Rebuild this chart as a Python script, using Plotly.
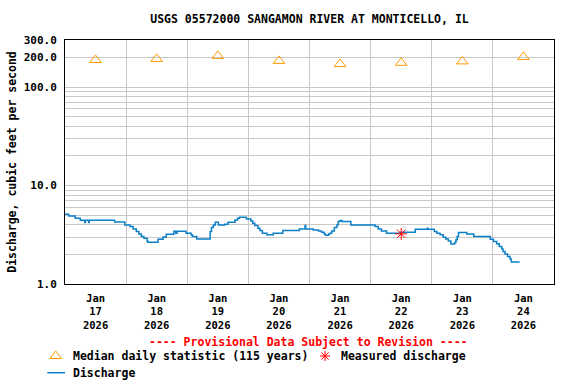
import plotly.graph_objects as go
import pandas as pd
import numpy as np

TITLE = "USGS 05572000 SANGAMON RIVER AT MONTICELLO, IL"

# Discharge time series (cfs)
q_times = [
    "2026-01-17 00:00", "2026-01-17 01:30", "2026-01-17 04:00", "2026-01-17 06:00",
    "2026-01-17 07:45", "2026-01-17 08:00", "2026-01-17 09:15", "2026-01-17 09:30",
    "2026-01-17 19:30", "2026-01-17 23:30", "2026-01-18 01:30", "2026-01-18 02:45",
    "2026-01-18 04:00", "2026-01-18 05:00", "2026-01-18 06:00", "2026-01-18 07:00",
    "2026-01-18 08:15", "2026-01-18 08:30", "2026-01-18 12:30", "2026-01-18 14:30",
    "2026-01-18 15:45", "2026-01-18 18:45", "2026-01-18 19:30", "2026-01-18 20:00",
    "2026-01-18 23:30", "2026-01-19 01:30", "2026-01-19 02:00", "2026-01-19 03:45",
    "2026-01-19 09:00", "2026-01-19 09:30", "2026-01-19 10:15", "2026-01-19 11:00",
    "2026-01-19 12:15", "2026-01-19 14:45", "2026-01-19 16:00", "2026-01-19 18:45",
    "2026-01-19 19:45", "2026-01-19 20:30", "2026-01-19 23:15", "2026-01-20 01:00",
    "2026-01-20 01:45", "2026-01-20 02:30", "2026-01-20 03:45", "2026-01-20 04:30",
    "2026-01-20 05:30", "2026-01-20 07:15", "2026-01-20 09:45", "2026-01-20 13:30",
    "2026-01-20 20:00", "2026-01-20 22:15", "2026-01-20 22:30", "2026-01-21 01:30",
    "2026-01-21 03:30", "2026-01-21 04:45", "2026-01-21 05:45", "2026-01-21 06:15",
    "2026-01-21 07:30", "2026-01-21 08:00", "2026-01-21 08:45", "2026-01-21 09:45",
    "2026-01-21 10:45", "2026-01-21 11:15", "2026-01-21 12:00", "2026-01-21 12:45",
    "2026-01-21 16:15", "2026-01-22 01:45", "2026-01-22 03:00", "2026-01-22 04:15",
    "2026-01-22 06:15", "2026-01-22 11:45", "2026-01-22 17:30", "2026-01-22 22:15",
    "2026-01-22 22:30", "2026-01-23 01:00", "2026-01-23 02:00", "2026-01-23 03:15",
    "2026-01-23 04:30", "2026-01-23 05:30", "2026-01-23 06:30", "2026-01-23 07:30",
    "2026-01-23 09:00", "2026-01-23 09:30", "2026-01-23 10:00", "2026-01-23 10:30",
    "2026-01-23 13:45", "2026-01-23 16:30", "2026-01-23 23:00", "2026-01-24 00:15",
    "2026-01-24 01:30", "2026-01-24 02:30", "2026-01-24 03:30", "2026-01-24 04:00",
    "2026-01-24 04:45", "2026-01-24 05:45", "2026-01-24 06:45", "2026-01-24 07:15",
    "2026-01-24 10:30",
]
q_values = [
    5.11, 4.91, 4.66, 4.44,
    4.20, 4.44, 4.20, 4.44,
    4.27, 3.98, 3.83, 3.62,
    3.41, 3.22, 3.04, 2.92,
    2.74, 2.66, 2.85, 3.00,
    3.20, 3.44, 3.28, 3.44,
    3.28, 3.16, 3.03, 2.87,
    3.41, 3.74, 3.98, 4.24,
    3.98, 4.05, 4.24, 4.47,
    4.66, 4.76, 4.58, 4.37,
    4.14, 3.92, 3.69, 3.49,
    3.28, 3.16, 3.28, 3.49,
    3.62, 3.92, 3.62, 3.54,
    3.46, 3.36, 3.21, 3.12,
    3.21, 3.28, 3.46, 3.74,
    3.98, 4.30, 4.40, 4.30,
    3.98, 3.83, 3.62, 3.46,
    3.28, 3.36, 3.60, 3.69,
    3.60, 3.41, 3.28, 3.16,
    2.99, 2.87, 2.74, 2.54,
    2.64, 2.81, 3.03, 3.33,
    3.21, 3.03, 2.85, 2.70,
    2.56, 2.40, 2.26, 2.14,
    2.02, 1.90, 1.79, 1.67,
    1.67,
]

# Median daily statistic (115 years)
med_days = ["2026-01-17", "2026-01-18", "2026-01-19", "2026-01-20",
            "2026-01-21", "2026-01-22", "2026-01-23", "2026-01-24"]
med_values = [188, 193, 207, 184, 171, 176, 182, 202]

# Measured discharge
meas_times = ["2026-01-22 12:00"]
meas_values = [3.23]

y_tickvals = [1, 10, 100, 200, 300]
y_ticktext = ["1.0", "10.0", "100.0", "200.0", "300.0"]
y_minor = [2, 3, 4, 5, 6, 7, 8, 9, 20, 30, 40, 50, 60, 70, 80, 90]

FONT = "DejaVu Sans Mono"
BLUE = "#0b7fc7"
ORANGE = "#ff9900"
RED = "#ff0000"

med_x = pd.to_datetime(med_days) + pd.Timedelta(hours=12)

fig = go.Figure()
fig.add_trace(go.Scatter(x=pd.to_datetime(q_times), y=q_values, mode="lines",
                         line=dict(color=BLUE, width=1.5, shape="hv"),
                         showlegend=False))
fig.add_trace(go.Scatter(x=med_x, y=med_values, mode="markers",
                         marker=dict(symbol="triangle-up-open", size=10, color=ORANGE,
                                     line=dict(color=ORANGE, width=1)),
                         showlegend=False))
fig.add_trace(go.Scatter(x=pd.to_datetime(meas_times), y=meas_values, mode="markers",
                         marker=dict(symbol="asterisk-open", size=10, color=RED,
                                     line=dict(color=RED, width=1)),
                         showlegend=False))

# legend key symbols drawn as pixel-sized shapes anchored in paper coords
fig.add_shape(type="path", xref="paper", yref="paper", xsizemode="pixel", ysizemode="pixel",
              xanchor=-0.019, yanchor=-0.295,
              path="M-5.8,-2.5 L5.8,-2.5 L0,5 Z",
              line=dict(color=ORANGE, width=1), fillcolor="rgba(0,0,0,0)")
fig.add_shape(type="path", xref="paper", yref="paper", xsizemode="pixel", ysizemode="pixel",
              xanchor=0.5317, yanchor=-0.295,
              path="M0,-5 L0,5 M-5,0 L5,0 M-3.6,-3.6 L3.6,3.6 M-3.6,3.6 L3.6,-3.6",
              line=dict(color=RED, width=1))
fig.add_shape(type="line", xref="paper", yref="paper", x0=-0.0362, x1=0.0,
              y0=-0.3635, y1=-0.3635, line=dict(color=BLUE, width=1.5))

ann_font = dict(family=FONT, size=11.5, color="black", weight="bold")
fig.add_annotation(text="---- Provisional Data Subject to Revision ----", xref="paper", yref="paper",
                   x=0.497, y=-0.2377, showarrow=False, xanchor="center", yanchor="middle",
                   font=dict(family=FONT, size=11.5, color=RED, weight="bold"))
fig.add_annotation(text="Median daily statistic (115 years)", xref="paper", yref="paper",
                   x=0.0117, y=-0.295, showarrow=False, xanchor="left", yanchor="middle", font=ann_font)
fig.add_annotation(text="Measured discharge", xref="paper", yref="paper",
                   x=0.561, y=-0.295, showarrow=False, xanchor="left", yanchor="middle", font=ann_font)
fig.add_annotation(text="Discharge", xref="paper", yref="paper",
                   x=0.0117, y=-0.3635, showarrow=False, xanchor="left", yanchor="middle", font=ann_font)

fig.update_layout(
    width=576, height=384,
    margin=dict(l=65, r=22, t=40, b=100, autoexpand=False),
    paper_bgcolor="white", plot_bgcolor="white",
    font=dict(family=FONT, size=11, color="black", weight="bold"),
    title=dict(text=TITLE, x=0.5, xref="paper", xanchor="center", y=0.95, yanchor="middle",
               font=dict(family=FONT, size=11.5, color="black", weight="bold")),
    showlegend=False,
    xaxis=dict(type="date", range=["2026-01-17", "2026-01-25"],
               tick0="2026-01-17", dtick=86400000, ticklabelmode="period",
               tickformat="%b<br>%d<br>%Y", ticks="", showgrid=True,
               gridcolor="#c8c8c8", gridwidth=1, ticklabelstandoff=4, automargin=False,
               showline=True, linecolor="black", linewidth=1, mirror=True,
               zeroline=False, tickfont=dict(family=FONT, size=10.5, weight="bold")),
    yaxis=dict(type="log", range=[0, np.log10(300)],
               tickmode="array", tickvals=y_tickvals, ticktext=y_ticktext,
               ticks="", showgrid=True, gridcolor="#c8c8c8", gridwidth=1,
               minor=dict(tickmode="array", tickvals=y_minor, showgrid=True,
                          gridcolor="#c8c8c8", gridwidth=1, ticks=""),
               showline=True, linecolor="black", linewidth=1, mirror=True,
               zeroline=False, ticklabelstandoff=5, automargin=False,
               title=dict(text="Discharge, cubic feet per second", standoff=4,
                          font=dict(family=FONT, size=11.5, weight="bold")),
               tickfont=dict(family=FONT, size=11, weight="bold")),
)

fig.write_html("out.html", config={"displayModeBar": False},
               post_script="document.body.style.margin='0px';")
